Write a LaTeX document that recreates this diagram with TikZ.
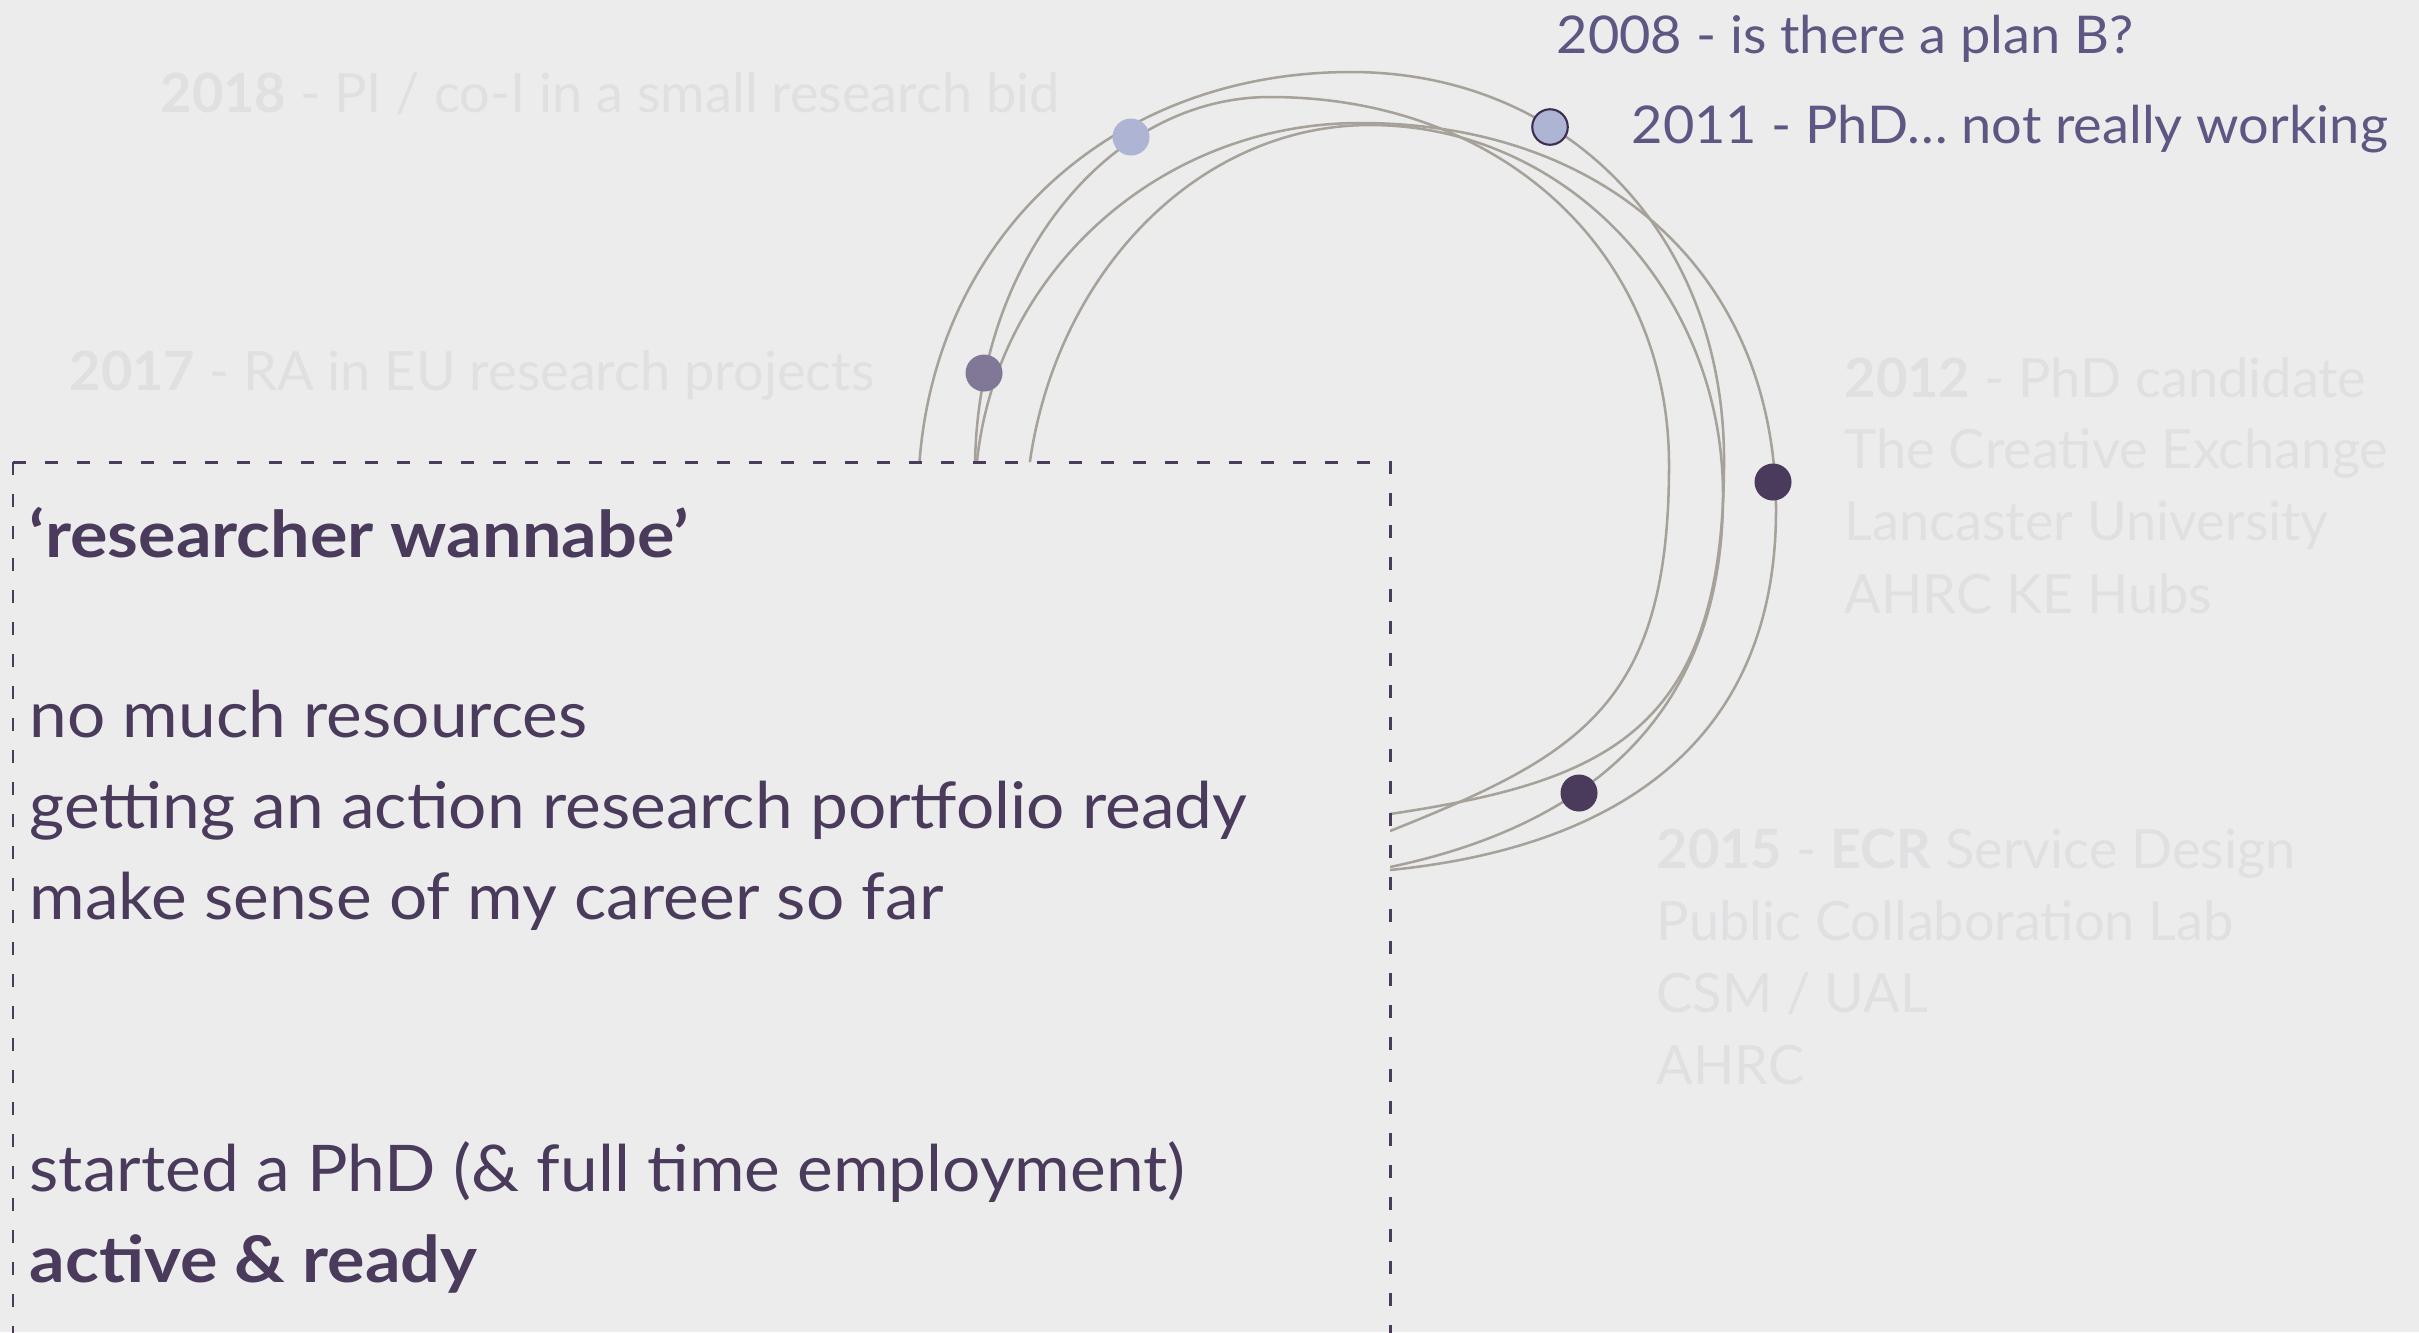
\documentclass[tikz,border=0pt]{standalone}
\usepackage{fontspec}
\setmainfont{Lato}
\definecolor{bgc}{HTML}{ECECEC}
\definecolor{arcc}{HTML}{A6A29A}
\definecolor{boxc}{HTML}{4A3A5C}
\definecolor{topc}{HTML}{5F5683}
\definecolor{fadec}{HTML}{E0E0E2}
\definecolor{lightdot}{HTML}{AEB4D3}
\definecolor{middot}{HTML}{817898}
\definecolor{darkdot}{HTML}{4A3A5C}
\definecolor{outlinec}{HTML}{3D2E50}
\tikzset{
  arcline/.style={draw=arcc, line width=0.72pt, line cap=round},
  dotnode/.style={circle, inner sep=0pt, minimum size=0.37cm},
  boxtext/.style={anchor=base west, inner sep=0pt, text=boxc,
    font={\fontsize{18.3}{22}\selectfont\addfontfeatures{FakeStretch=1.05}}},
  boxbold/.style={anchor=base west, inner sep=0pt, text=boxc,
    font={\fontsize{18.3}{22}\selectfont\addfontfeatures{FakeStretch=1.09}\bfseries}},
  toptext/.style={anchor=base west, inner sep=0pt, text=topc,
    font={\fontsize{14.8}{18}\selectfont\addfontfeatures{FakeStretch=1.04}}},
  fadetext/.style={anchor=base west, inner sep=0pt, text=fadec,
    font={\fontsize{15.4}{19}\selectfont}},
  dashbox/.style={draw=boxc, line width=0.85pt, dash pattern=on 3.7pt off 5.4pt}
}
\begin{document}
\begin{tikzpicture}[x=0.01cm,y=-0.01cm]
\fill[bgc] (0,0) rectangle (2419,1332);
\useasboundingbox (0,0) rectangle (2419,1332);
\clip (0,0) rectangle (2419,1332);

% faded texts
\node[fadetext] (t2018) at (160,112) {\textbf{2018} - PI / co-I in a small research bid};
\node[fadetext] (t2017) at (69,390) {\textbf{2017} - RA in EU research projects};
\node[fadetext] (t2012a) at (1844,397) {\textbf{2012} - PhD candidate};
\node[fadetext] (t2012b) at (1844,468) {The Creative Exchange};
\node[fadetext] (t2012c) at (1844,540) {Lancaster University};
\node[fadetext] (t2012d) at (1844,613) {AHRC KE Hubs};
\node[fadetext] (t2015a) at (1656,868) {\textbf{2015} - \textbf{ECR} Service Design};
\node[fadetext] (t2015b) at (1656,940) {Public Collaboration Lab};
\node[fadetext] (t2015c) at (1656,1012) {CSM / UAL};
\node[fadetext] (t2015d) at (1656,1084) {AHRC};

% arcs (hidden behind the box region)
\begin{scope}
\clip (0,0) -- (2419,0) -- (2419,1332) -- (1390,1332) -- (1390,462) -- (0,462) -- cycle;
% A
\draw[arcline] (918,500) .. controls (918,251.8) and (1099.9,72) .. (1351,72)
  .. controls (1567.3,72) and (1724,235) .. (1724,460)
  .. controls (1724,730) and (1610,781) .. (1390,814);
% B
\draw[arcline] (975,470) .. controls (975,264) and (1107.1,97) .. (1270,97)
  .. controls (1501.4,97) and (1669,251.6) .. (1669,465)
  .. controls (1669,705) and (1580,755) .. (1390,831);
% C
\draw[arcline] (975,500) .. controls (975,291.8) and (1147.4,123) .. (1360,123)
  .. controls (1609.6,123) and (1776,277.8) .. (1776,510)
  .. controls (1776,740) and (1620,847) .. (1390,870);
% D
\draw[arcline] (1025,530) .. controls (1025,306.3) and (1179.5,125) .. (1370,125)
  .. controls (1565,125) and (1723,290.6) .. (1723,495)
  .. controls (1723,705) and (1600,823) .. (1390,867);
\end{scope}

% dots
\node[dotnode, fill=lightdot] (d2018) at (1131,137) {};
\node[dotnode, fill=middot] (d2017) at (984,373) {};
\node[dotnode, fill=lightdot, draw=outlinec, line width=0.6pt, minimum size=0.355cm] (d2011) at (1550,127) {};
\node[dotnode, fill=darkdot] (d2012) at (1773,482) {};
\node[dotnode, fill=darkdot] (d2015) at (1579,793) {};

% top right texts
\node[toptext] (t2008) at (1556,53) {2008 - is there a plan B?};
\node[toptext] (t2011) at (1631,143) {2011 - PhD… not really working};

% dashed box
\coordinate (corner) at (13,462);
\draw[dashbox] (corner) -- (1390,462) -- (1390,1350);
\draw[dashbox] (corner) -- (13,1350);

% box texts
\node[boxbold] (b1) at (29,557) {‘researcher wannabe’};
\node[boxtext] (b2) at (29,737) {no much resources};
\node[boxtext] (b3) at (29,828) {getting an action research portfolio ready};
\node[boxtext] (b4) at (29,919) {make sense of my career so far};
\node[boxtext] (b5) at (29,1191) {started a PhD (\& full time employment)};
\node[boxbold] (b6) at (29,1282) {active \& ready};
\end{tikzpicture}
\end{document}
